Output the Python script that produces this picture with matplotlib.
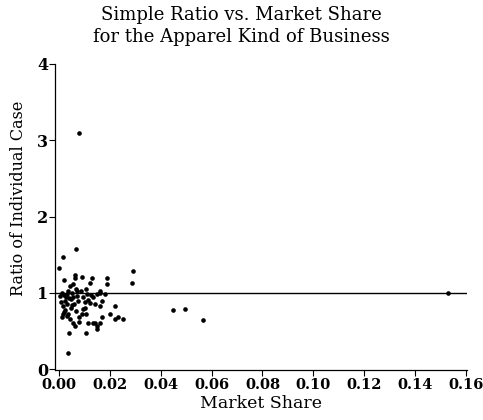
import matplotlib
matplotlib.use("Agg")
import matplotlib.pyplot as plt

# market share vs ratio of individual case
market_share = [
    0.0000, 0.0016, 0.0067, 0.0078, 0.0020, 0.0063, 0.0063, 0.0090, 0.0130, 0.0120,
    0.0043, 0.0055, 0.0067, 0.0035, 0.0004, 0.0030, 0.0024, 0.0016, 0.0030, 0.0055,
    0.0070, 0.0094, 0.0110, 0.0120, 0.0094, 0.0090, 0.0080, 0.0016, 0.0030, 0.0043,
    0.0055, 0.0063, 0.0040, 0.0106, 0.0114, 0.0133, 0.0150, 0.0035, 0.0133, 0.0160,
    0.0170, 0.0160, 0.0220, 0.0200, 0.0170, 0.0220, 0.0230, 0.0250, 0.0140, 0.0160,
    0.0150, 0.0190, 0.0190, 0.0290, 0.0286, 0.0160, 0.0150, 0.0447, 0.0494, 0.0565,
    0.1530, 0.0010, 0.0020, 0.0040, 0.0050, 0.0008, 0.0025, 0.0045, 0.0060, 0.0075,
    0.0085, 0.0100, 0.0105, 0.0125, 0.0140, 0.0018, 0.0035, 0.0050, 0.0065, 0.0080,
    0.0100, 0.0115, 0.0012, 0.0028, 0.0048, 0.0180, 0.0105, 0.0070,
]
ratio = [
    1.32, 1.47, 1.58, 3.10, 1.17, 1.23, 1.20, 1.21, 1.19, 1.13,
    1.09, 1.12, 1.05, 1.02, 0.96, 0.99, 0.90, 0.83, 0.86, 0.94,
    0.96, 0.94, 0.99, 0.87, 0.79, 0.73, 0.68, 0.73, 0.70, 0.66,
    0.61, 0.57, 0.47, 0.47, 0.60, 0.60, 0.57, 0.21, 0.94, 1.00,
    0.90, 0.83, 0.83, 0.73, 0.68, 0.66, 0.68, 0.66, 0.60, 0.60,
    0.53, 1.20, 1.12, 1.29, 1.13, 1.03, 0.99, 0.78, 0.79, 0.64,
    1.00, 1.00, 0.97, 0.93, 1.00, 0.88, 0.77, 0.80, 0.85, 0.90,
    1.02, 0.80, 1.05, 0.97, 0.86, 0.75, 0.72, 0.84, 0.76, 0.62,
    0.88, 0.91, 0.68, 0.95, 0.92, 0.98, 0.72, 1.03,
]
x_ticks = [0.00, 0.02, 0.04, 0.06, 0.08, 0.10, 0.12, 0.14, 0.16]
y_ticks = [0, 1, 2, 3, 4]
reference_ratio = 1.0

plt.rcParams["font.family"] = ["DejaVu Serif"]

fig = plt.figure(figsize=(4.83, 4.20), dpi=100)
ax = fig.add_axes([0.114, 0.119, 0.853, 0.729])

ax.axhline(reference_ratio, color="black", linewidth=1.0, zorder=1)
ax.scatter(market_share, ratio, s=11, color="black", linewidths=0, zorder=2)

ax.set_xlim(-0.0016, 0.1605)
ax.set_ylim(-0.01, 4.0)
ax.set_xticks(x_ticks)
ax.set_xticklabels([f"{t:.2f}" for t in x_ticks], fontweight="bold")
ax.set_yticks(y_ticks)
ax.set_yticklabels([str(t) for t in y_ticks], fontweight="bold")
ax.tick_params(axis="x", direction="out", length=4, width=0.8, labelsize=10.5, pad=2)
ax.tick_params(axis="y", direction="out", length=4, width=0.8, labelsize=11.5, pad=1)

for side in ("top", "right"):
    ax.spines[side].set_visible(False)
for side in ("left", "bottom"):
    ax.spines[side].set_linewidth(0.9)

ax.set_xlabel("Market Share", fontsize=12.5, labelpad=2)
ax.set_ylabel("Ratio of Individual Case", fontsize=11.5)
ax.yaxis.set_label_coords(-0.068, 0.56)
fig.text(0.50, 0.985, "Simple Ratio vs. Market Share\nfor the Apparel Kind of Business",
         ha="center", va="top", fontsize=13, linespacing=1.3)

fig.savefig("out.png", dpi=100, facecolor="white")
